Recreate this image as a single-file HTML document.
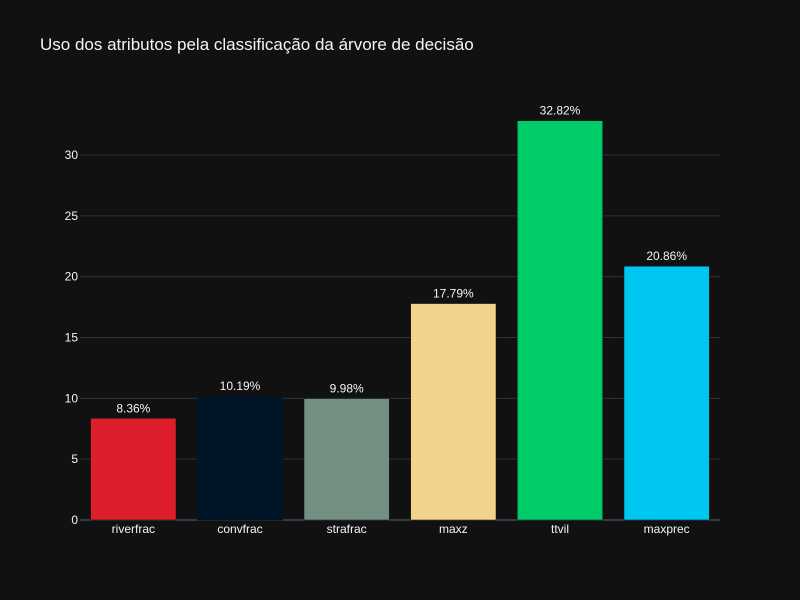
<!DOCTYPE html>
<html><head><meta charset="utf-8"><style>
body{margin:0;background:#111111;}
svg{display:block;font-family:"Liberation Sans",Arial,sans-serif;}
</style></head><body>
<svg id="chart" width="800" height="600" xmlns="http://www.w3.org/2000/svg">
<rect width="800" height="600" fill="#111111"/>
<text x="40" y="50" font-size="17" fill="#f2f5fa">Uso dos atributos pela classificação da árvore de decisão</text>
<g id="grid"></g><g id="bars"></g><g id="labels"></g>
</svg>
<script>
const categories = ["riverfrac","convfrac","strafrac","maxz","ttvil","maxprec"];
const values = [8.36,10.19,9.98,17.79,32.82,20.86];
const valueLabels = ["8.36%","10.19%","9.98%","17.79%","32.82%","20.86%"];
const colors = ["#dc1f2b","#001628","#738f82","#f2d28c","#00cc6a","#00c7f2"];
const yTicks = [0,5,10,15,20,25,30];

const NS="http://www.w3.org/2000/svg";
const x0=80,x1=720,yBase=520,pxPerUnit=365/30;
const y = v => yBase - v*pxPerUnit;
const band=(x1-x0)/categories.length, bw=band*0.8;
const xc = i => x0 + band*(i+0.5);
function mk(tag,attrs,parent,text){const e=document.createElementNS(NS,tag);for(const k in attrs)e.setAttribute(k,attrs[k]);if(text!==undefined)e.textContent=text;document.getElementById(parent).appendChild(e);return e;}

yTicks.forEach(t=>{
  if(t>0){const l=mk('line',{x1:x0,x2:x1,y1:y(t),y2:y(t),stroke:'#283442','stroke-width':1},'grid');
  
  }
  const tx=mk('text',{x:x0-2,y:y(t)+4,'text-anchor':'end','font-size':12,fill:'#f2f5fa'},'grid',String(t));
  
  
});
const zl=mk('line',{x1:x0,x2:x1,y1:yBase,y2:yBase,stroke:'#506784','stroke-width':1},'grid');



categories.forEach((c,i)=>{
  const r=mk('rect',{x:xc(i)-bw/2,y:y(values[i]),width:bw,height:yBase-y(values[i]),fill:colors[i],stroke:'#111111','stroke-width':0.5},'bars');
  
  
  const v=mk('text',{x:xc(i),y:y(values[i])-6,'text-anchor':'middle','font-size':12,fill:'#f2f5fa'},'labels',valueLabels[i]);
  
  
  const t=mk('text',{x:xc(i),y:yBase+13,'text-anchor':'middle','font-size':12,fill:'#f2f5fa'},'labels',c);
  
  
});
</script>
</body></html>
